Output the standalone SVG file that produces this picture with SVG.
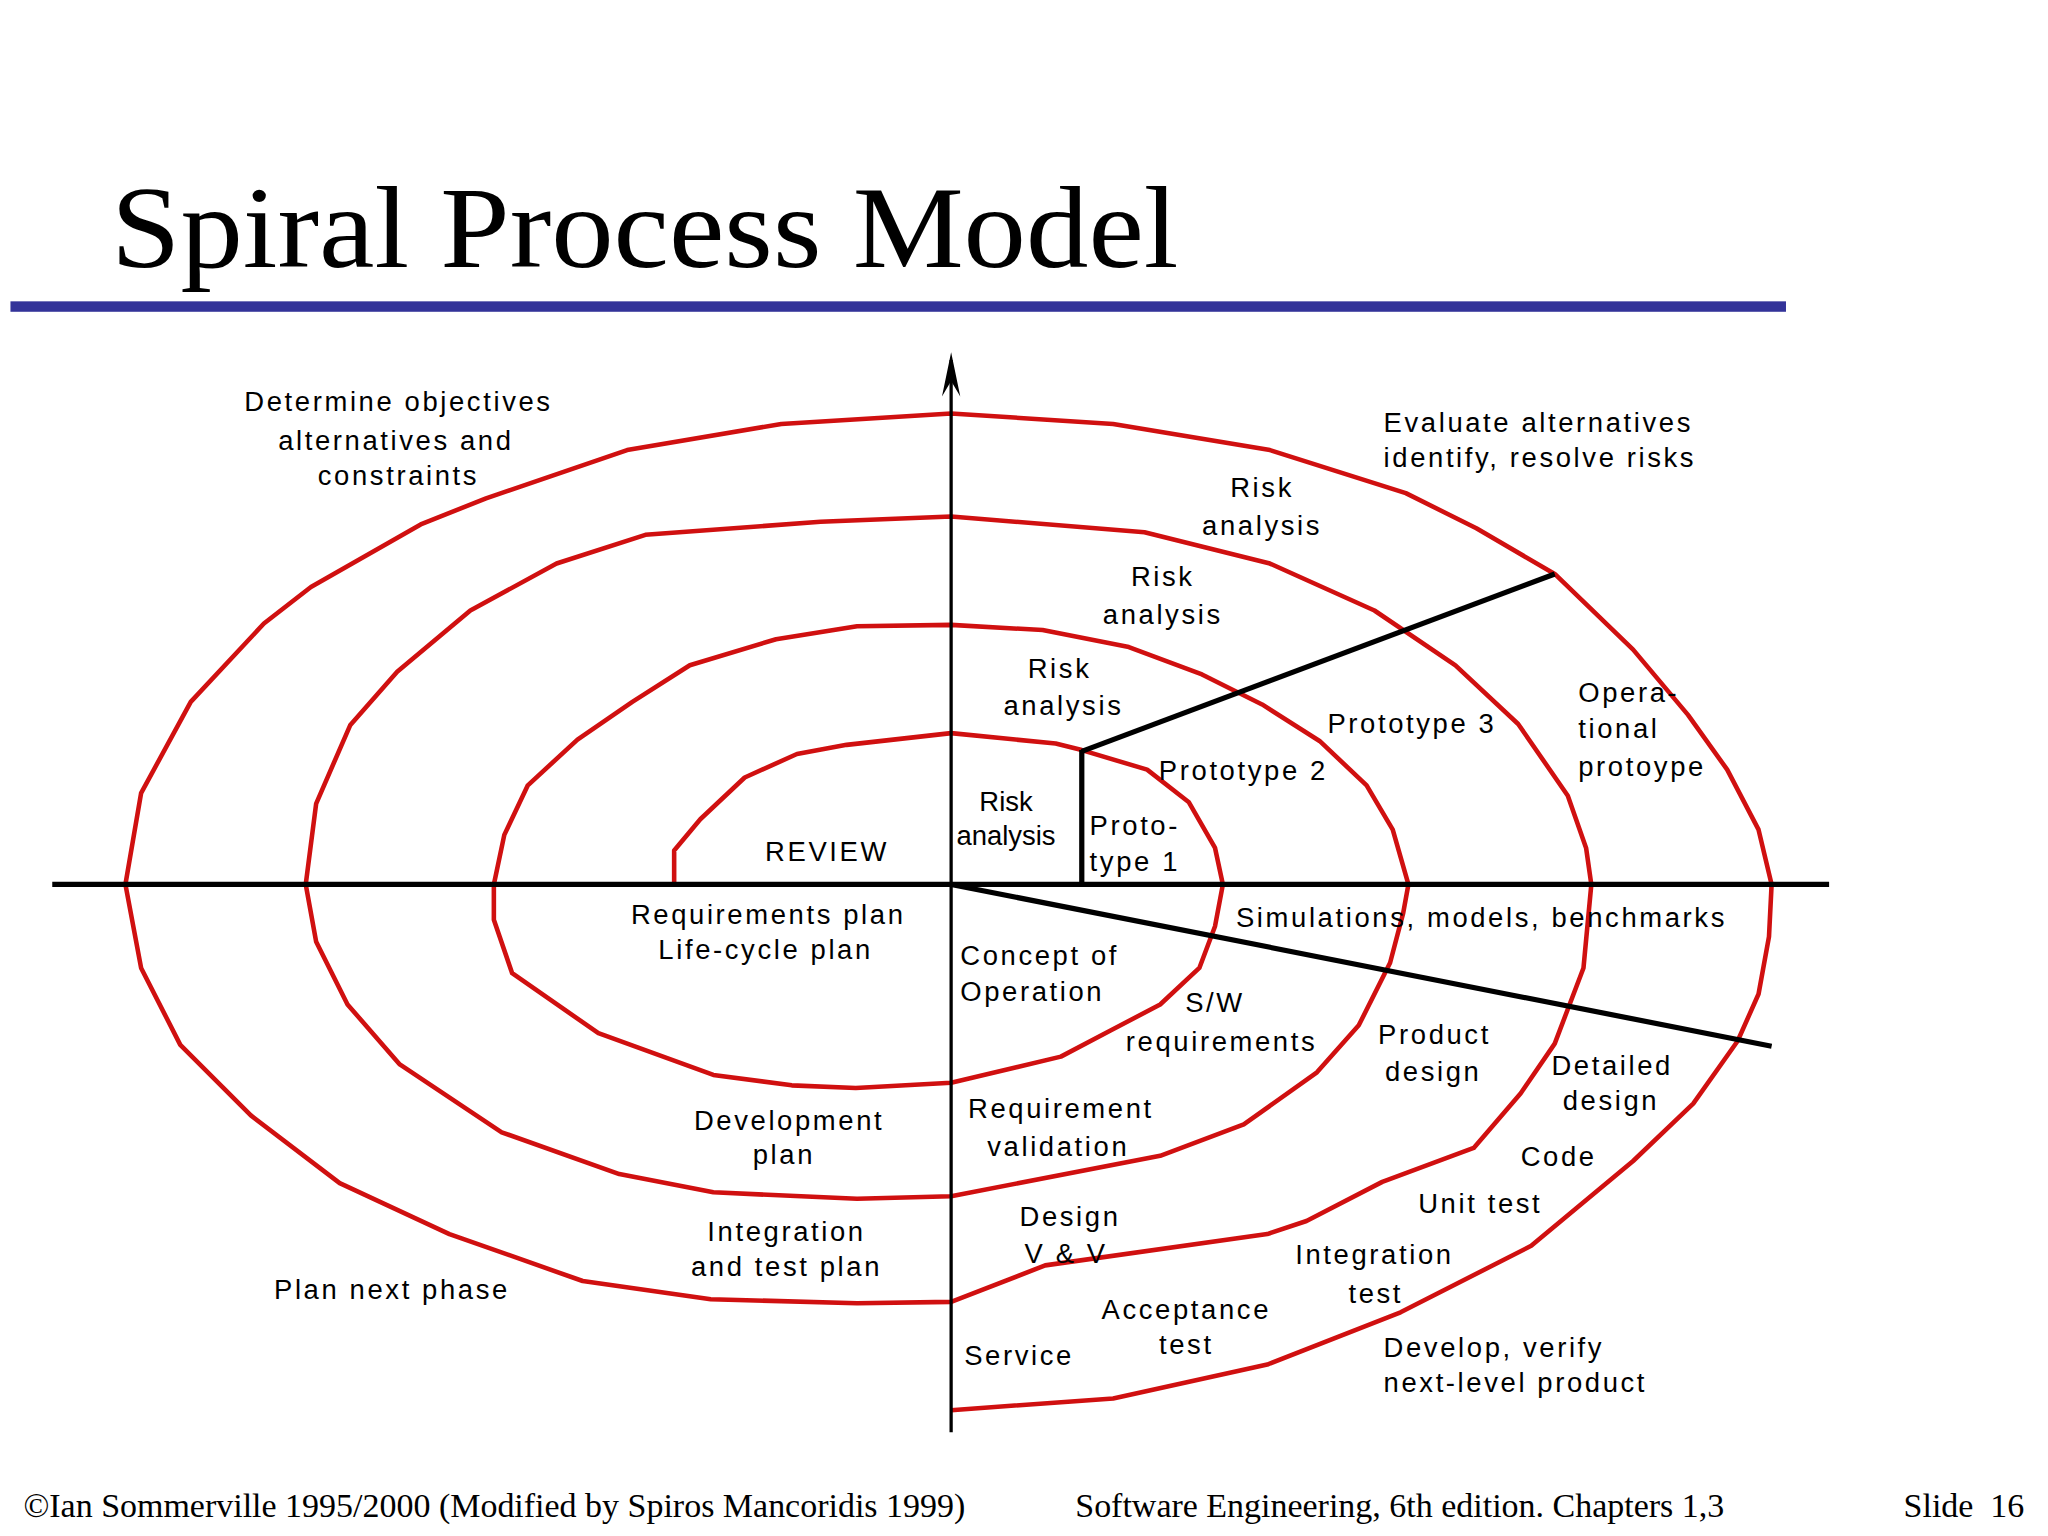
<svg xmlns="http://www.w3.org/2000/svg" width="2048" height="1536" viewBox="0 0 2048 1536">
<style>
.l{font-family:"Liberation Sans",Arial,sans-serif;font-size:21px;letter-spacing:2px;fill:#000}
.c{text-anchor:middle}
.f{font-family:"Liberation Serif","Times New Roman",serif;font-size:26px;fill:#000}
.sp{fill:none;stroke:#d01010;stroke-width:3.5;stroke-linejoin:round}
.ax{stroke:#000;stroke-width:4;fill:none}
</style>
<rect width="2048" height="1536" fill="#fff"/>
<g transform="scale(1.3065,1.3045)">
<g id="title">
<text x="85" y="205" font-family="Liberation Serif,'Times New Roman',serif" font-size="90" textLength="817" lengthAdjust="spacingAndGlyphs">Spiral Process Model</text>
<rect x="8" y="231" width="1359" height="8" fill="#333399"/>
</g>
<g id="connectors">
<polyline class="sp" points="516,678 516,652 536,628 570,596 610,578 648,571 728,562 808,570 828,575 878,590 910,615 930,650 936,678 930,710 918,742 888,770 850,790 812,810 728,830 655,834 606,832 546,824 458,792 392,746 378,705 378,678 386,640 404,602 442,567 484,538 528,510 594,490 656,480 728,479 798,483 864,496 920,517 966,540 1010,568 1046,602 1066,636 1078,678 1074,700 1064,738 1040,786 1008,822 952,862 888,886 728,917 656,919 546,914 474,900 384,868 306,816 266,770 242,722 234,678 242,616 268,556 304,515 360,468 426,432 494,410 628,400 728,396 876,408 972,432 1052,468 1114,510 1162,555 1200,610 1214,650 1218,678 1212,742 1190,800 1164,838 1128,880 1058,906 1000,936 970,946 800,970 728,998 656,999 544,996 446,982 344,946 260,907 192,855 138,801 108,742 96,678 108,608 146,538 202,478 238,450 322,402 372,382 480,345 598,325 728,317 852,325 972,345 1076,378 1130,405 1190,440 1250,498 1292,548 1322,590 1346,636 1356,678 1354,718 1346,762 1330,798 1296,846 1250,890 1172,955 1072,1006 970,1046 852,1072 728,1081"/>
<line class="ax" x1="40" y1="678" x2="1400" y2="678"/>
<line x1="728" y1="276" x2="728" y2="1098" stroke="#000" stroke-width="2.5"/>
<path d="M728,270 L721,304 L728,292 L735,304 Z" fill="#000"/>
<line class="ax" x1="828" y1="575" x2="828" y2="678" stroke-width="3"/>
<line class="ax" x1="828" y1="576" x2="1190" y2="440"/>
<line class="ax" x1="728" y1="678" x2="1356" y2="802"/>
</g>
<g id="labels">
<text class="l c" x="305" y="315">Determine objectives</text>
<text class="l c" x="303" y="345">alternatives and</text>
<text class="l c" x="305" y="372">constraints</text>
<text class="l" x="1059" y="331">Evaluate alternatives</text>
<text class="l" x="1059" y="358">identify, resolve risks</text>
<text class="l c" x="966" y="381">Risk</text>
<text class="l c" x="966" y="410">analysis</text>
<text class="l c" x="890" y="449">Risk</text>
<text class="l c" x="890" y="478">analysis</text>
<text class="l c" x="811" y="520">Risk</text>
<text class="l c" x="814" y="548">analysis</text>
<text class="l" x="1016" y="562">Prototype 3</text>
<text class="l" x="887" y="598">Prototype 2</text>
<text class="l" x="1208" y="538">Opera-</text>
<text class="l" x="1208" y="566">tional</text>
<text class="l" x="1208" y="595">protoype</text>
<text class="l c" x="770" y="622" style="letter-spacing:0">Risk</text>
<text class="l c" x="770" y="648" style="letter-spacing:0">analysis</text>
<text class="l" x="834" y="640">Proto-</text>
<text class="l" x="834" y="668">type 1</text>
<text class="l c" x="633" y="660">REVIEW</text>
<text class="l c" x="588" y="708">Requirements plan</text>
<text class="l c" x="586" y="735">Life-cycle plan</text>
<text class="l" x="946" y="711">Simulations, models, benchmarks</text>
<text class="l" x="735" y="740">Concept of</text>
<text class="l" x="735" y="767">Operation</text>
<text class="l c" x="930" y="776">S/W</text>
<text class="l c" x="935" y="806">requirements</text>
<text class="l c" x="1098" y="800">Product</text>
<text class="l c" x="1097" y="829">design</text>
<text class="l c" x="1234" y="824">Detailed</text>
<text class="l c" x="1233" y="851">design</text>
<text class="l c" x="604" y="866">Development</text>
<text class="l c" x="600" y="892">plan</text>
<text class="l c" x="812" y="857">Requirement</text>
<text class="l c" x="810" y="886">validation</text>
<text class="l c" x="1193" y="894">Code</text>
<text class="l c" x="1133" y="930">Unit test</text>
<text class="l c" x="602" y="951">Integration</text>
<text class="l c" x="602" y="978">and test plan</text>
<text class="l c" x="819" y="940">Design</text>
<text class="l c" x="816" y="968">V &amp; V</text>
<text class="l c" x="1052" y="969">Integration</text>
<text class="l c" x="1053" y="999">test</text>
<text class="l c" x="300" y="996">Plan next phase</text>
<text class="l c" x="908" y="1011">Acceptance</text>
<text class="l c" x="908" y="1038">test</text>
<text class="l" x="738" y="1046">Service</text>
<text class="l" x="1059" y="1040">Develop, verify</text>
<text class="l" x="1059" y="1067">next-level product</text>
</g>
<g id="footer">
<text class="f" x="18" y="1163">©Ian Sommerville 1995/2000 (Modified by Spiros Mancoridis 1999)</text>
<text class="f" x="823" y="1163">Software Engineering, 6th edition. Chapters 1,3</text>
<text class="f" x="1457" y="1163" xml:space="preserve">Slide  16</text>
</g>
</g>
</svg>
